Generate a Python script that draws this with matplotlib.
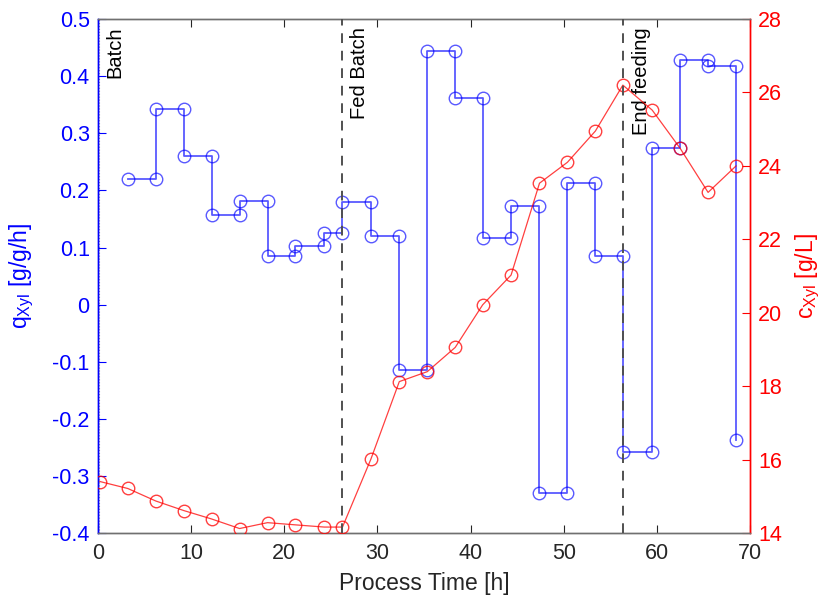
import matplotlib
matplotlib.use("Agg")
import matplotlib.pyplot as plt

plt.rcParams["font.family"] = ["Liberation Sans", "DejaVu Sans"]
plt.rcParams["mathtext.fontset"] = "custom"
plt.rcParams["mathtext.rm"] = "Liberation Sans"
plt.rcParams["mathtext.it"] = "Liberation Sans:italic"

# sampling times [h]
t_samples = [0.2, 3.2, 6.2, 9.2, 12.2, 15.2, 18.2, 21.2, 24.3, 26.25, 29.3, 32.35,
             35.35, 38.35, 41.3, 44.35, 47.4, 50.4, 53.4, 56.35, 59.5, 62.5, 65.5, 68.5]

# xylose concentration [g/L]
c_xyl = [15.41, 15.22, 14.88, 14.62, 14.39, 14.13, 14.29, 14.23, 14.17, 14.17, 16.02, 18.13,
         18.40, 19.06, 20.22, 21.03, 23.53, 24.10, 24.95, 26.20, 25.52, 24.48, 23.28, 24.00]

# specific xylose rate per sampling interval [g/g/h], starting at the 2nd sample
q_xyl = [0.220, 0.342, 0.260, 0.157, 0.182, 0.085, 0.102, 0.126, 0.180, 0.120, -0.114,
         0.444, 0.361, 0.117, 0.172, -0.330, 0.213, 0.085, -0.258, 0.274, 0.428, 0.417]
q_xyl_last = -0.236

phase_times = [26.25, 56.35]
phase_labels = ["Batch", "Fed Batch", "End feeding"]
phase_label_x = [1.8, 28.05, 58.35]

# build the step trace: each interval drawn from its start to its end sample
t_q = t_samples[1:]
step_x, step_y = [], []
for i, q in enumerate(q_xyl):
    step_x += [t_q[i], t_q[i + 1]]
    step_y += [q, q]
step_x.append(t_q[-1])
step_y.append(q_xyl_last)

fig = plt.figure(figsize=(8.29, 6.07), dpi=100)
ax = fig.add_axes([0.1182, 0.1214, 0.7865, 0.8473])
ax2 = ax.twinx()

blue = "#0000ff"
red = "#ff0000"
axcol = "#262626"

ax.plot(step_x, step_y, color=blue, lw=1.3, alpha=0.65, marker="o", ms=9,
        mfc="none", mec=blue, mew=1.0, zorder=3)
ax2.plot(t_samples, c_xyl, color=red, lw=0.9, alpha=0.75, marker="o", ms=9,
         mfc="none", mec=red, mew=1.0, zorder=3)

for tp in phase_times:
    ax2.axvline(tp, color="#505050", ls=(0, (5, 4)), lw=1.4, zorder=4)
ax.axvline(0.12, color="#999999", ls=":", lw=0.8, zorder=1)

for lbl, xl in zip(phase_labels, phase_label_x):
    ax.text(xl, 0.486, lbl, rotation=90, ha="center", va="top", fontsize=14.5,
            color="black", zorder=5)

ax.set_xlim(0, 70)
ax.set_ylim(-0.4, 0.5)
ax2.set_ylim(14, 28)

ax.set_xticks(range(0, 71, 10))
ax.set_yticks([-0.4, -0.3, -0.2, -0.1, 0, 0.1, 0.2, 0.3, 0.4, 0.5])
ax.set_yticklabels(["-0.4", "-0.3", "-0.2", "-0.1", "0", "0.1", "0.2", "0.3", "0.4", "0.5"])
ax2.set_yticks(range(14, 29, 2))

ax.tick_params(axis="x", direction="in", length=6, width=0.8, colors=axcol,
               labelsize=15.5, pad=7, top=True)
ax.tick_params(axis="y", direction="in", length=6, width=0.8, colors=blue,
               labelsize=15.5, pad=6)
ax2.tick_params(axis="y", direction="in", length=6, width=0.8, colors=red,
                labelsize=15.5, pad=6)

for a in (ax, ax2):
    a.spines["top"].set_color("#707070")
    a.spines["bottom"].set_color("#707070")
    a.spines["left"].set_color(blue)
    a.spines["right"].set_color(red)
    for s in a.spines.values():
        s.set_linewidth(1.0)

ax.set_xlabel("Process Time [h]", fontsize=16.5, color="#262626", labelpad=6)
ax.set_ylabel(r"q$_{\mathrm{Xyl}}$ [g/g/h]", fontsize=16.5, color=blue, labelpad=12)
ax2.set_ylabel(r"c$_{\mathrm{Xyl}}$ [g/L]", fontsize=16.5, color=red, rotation=90,
               labelpad=8)

fig.savefig("out.png", dpi=100)
